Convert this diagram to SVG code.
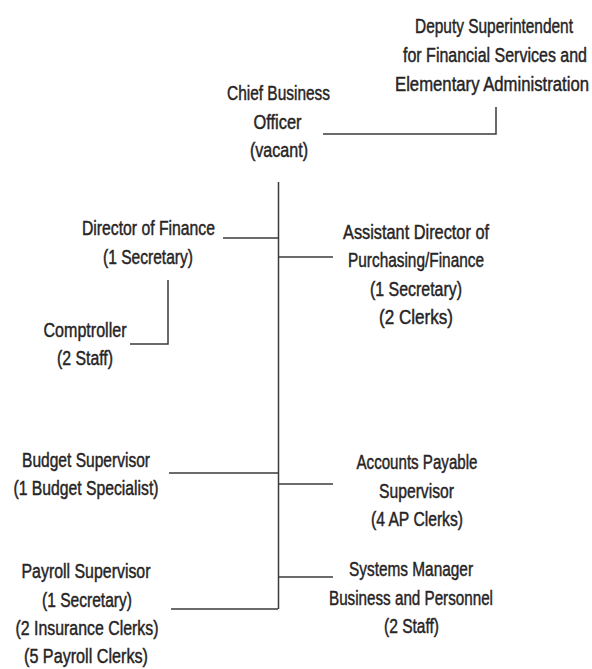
<svg xmlns="http://www.w3.org/2000/svg" width="592" height="669" viewBox="0 0 592 669">
<style>
text{font-family:"Liberation Sans","DejaVu Sans Condensed",Arial,sans-serif;font-size:20px;fill:#262425;stroke:#262425;stroke-width:0.45px;text-anchor:middle}
.c{stroke:#3a3a3a;stroke-width:1.5;fill:none}
</style>
<rect width="592" height="669" fill="#fff"/>
<g id="connectors">
<path class="c" d="M496,107V134H323"/>
<path class="c" d="M278.5,182V609"/>
<path class="c" d="M223,238H278"/>
<path class="c" d="M279,257H333"/>
<path class="c" d="M168,280V344H130"/>
<path class="c" d="M169,473H278"/>
<path class="c" d="M279,484H333"/>
<path class="c" d="M279,577H333"/>
<path class="c" d="M171,609H278"/>
</g>
<g id="deputy" transform="translate(492,0) scale(0.8,1)">
<text x="2.5" y="33" textLength="197.5" lengthAdjust="spacingAndGlyphs">Deputy Superintendent</text>
<text x="3.75" y="62" textLength="230" lengthAdjust="spacingAndGlyphs">for Financial Services and</text>
<text x="0" y="91" textLength="242.5" lengthAdjust="spacingAndGlyphs">Elementary Administration</text>
</g>
<g id="chief">
<text x="278.5" y="100" textLength="103" lengthAdjust="spacingAndGlyphs">Chief Business</text>
<text x="277.5" y="129" textLength="48" lengthAdjust="spacingAndGlyphs">Officer</text>
<text x="279" y="157" textLength="58" lengthAdjust="spacingAndGlyphs">(vacant)</text>
</g>
<g id="director">
<text x="148.5" y="235" textLength="133" lengthAdjust="spacingAndGlyphs">Director of Finance</text>
<text x="148" y="264" textLength="90" lengthAdjust="spacingAndGlyphs">(1 Secretary)</text>
</g>
<g id="comptroller">
<text x="85" y="337" textLength="83" lengthAdjust="spacingAndGlyphs">Comptroller</text>
<text x="85" y="365" textLength="56" lengthAdjust="spacingAndGlyphs">(2 Staff)</text>
</g>
<g id="assistant">
<text x="416" y="239" textLength="146" lengthAdjust="spacingAndGlyphs">Assistant Director of</text>
<text x="416" y="267" textLength="136" lengthAdjust="spacingAndGlyphs">Purchasing/Finance</text>
<text x="416" y="296" textLength="92" lengthAdjust="spacingAndGlyphs">(1 Secretary)</text>
<text x="416" y="324" textLength="74" lengthAdjust="spacingAndGlyphs">(2 Clerks)</text>
</g>
<g id="budget">
<text x="86" y="467" textLength="128" lengthAdjust="spacingAndGlyphs">Budget Supervisor</text>
<text x="86" y="495" textLength="145" lengthAdjust="spacingAndGlyphs">(1 Budget Specialist)</text>
</g>
<g id="accounts">
<text x="417" y="469" textLength="121" lengthAdjust="spacingAndGlyphs">Accounts Payable</text>
<text x="416.5" y="498" textLength="75" lengthAdjust="spacingAndGlyphs">Supervisor</text>
<text x="417" y="526" textLength="92" lengthAdjust="spacingAndGlyphs">(4 AP Clerks)</text>
</g>
<g id="payroll">
<text x="86" y="578" textLength="129" lengthAdjust="spacingAndGlyphs">Payroll Supervisor</text>
<text x="87" y="607" textLength="90" lengthAdjust="spacingAndGlyphs">(1 Secretary)</text>
<text x="87" y="635" textLength="143" lengthAdjust="spacingAndGlyphs">(2 Insurance Clerks)</text>
<text x="86" y="663" textLength="124" lengthAdjust="spacingAndGlyphs">(5 Payroll Clerks)</text>
</g>
<g id="systems">
<text x="411" y="576" textLength="124" lengthAdjust="spacingAndGlyphs">Systems Manager</text>
<text x="411" y="605" textLength="164" lengthAdjust="spacingAndGlyphs">Business and Personnel</text>
<text x="411.5" y="633" textLength="55" lengthAdjust="spacingAndGlyphs">(2 Staff)</text>
</g>
</svg>
